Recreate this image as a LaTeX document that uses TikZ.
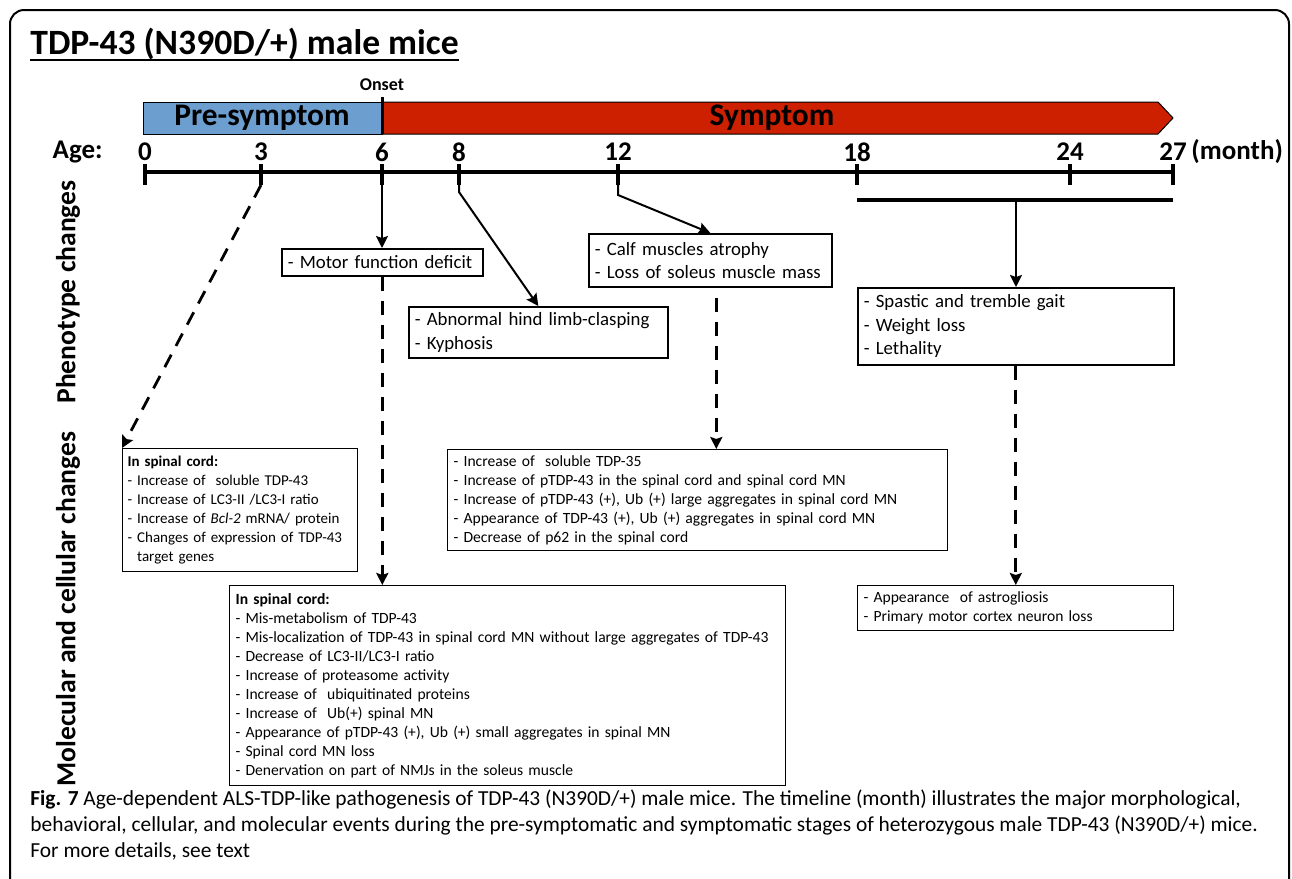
\documentclass[tikz,border=0pt]{standalone}
\usepackage{fontspec}
\setmainfont{Carlito}
\usetikzlibrary{positioning, arrows.meta}
\definecolor{preblue}{RGB}{108,159,208}
\definecolor{symred}{RGB}{204,32,0}
\tikzset{
>={Stealth[length=6pt, width=6pt, inset=1pt]}, % filled arrow heads
every node/.style={inner sep=0pt}, % text nodes sit right on their coordinates
phenobox/.style={draw, line width=0.8pt, anchor=north west, align=left, inner xsep=3pt, inner ysep=2pt, font=\fontsize{9.4}{11.75}\selectfont}, % phenotype boxes
molbox/.style={draw, line width=0.6pt, anchor=north west, align=left, inner xsep=3pt, inner ysep=2pt, font=\fontsize{7.8}{9.5}\selectfont}, % molecular boxes
solidarrow/.style={->, line width=1pt},
dasharrow/.style={->, line width=1.4pt, dash pattern=on 7pt off 5pt},
agelabel/.style={font=\bfseries\fontsize{13.5}{15}\selectfont},
stagelabel/.style={font=\bfseries\fontsize{15.7}{17}\selectfont},
sidelabel/.style={rotate=90, font=\bfseries\fontsize{13.8}{15}\selectfont},
}

\begin{document}
\begin{tikzpicture}[x=0.5pt, y=-0.5pt]
\useasboundingbox (0,0) rectangle (1292,879);
% frame
\draw[line width=1pt, rounded corners=7pt] (10,890) -- (10,10) -- (1289,10) -- (1289,890);

% title
\node[anchor=base west, font=\bfseries\fontsize{17.8}{20}\selectfont] (title) at (30,54) {TDP-43 (N390D/+) male mice};
\draw[line width=1pt] ([yshift=-3pt]title.base west) -- ([yshift=-3pt]title.base east);

% stages
\draw[line width=0.5pt, fill=preblue] (143,102) rectangle (382,134);
\draw[line width=0.5pt, fill=symred] (382,102) -- (1158,102) -- (1173,118) -- (1158,134) -- (382,134) -- cycle;
\draw[line width=1.5pt] (382,97) -- (382,134);
\node[font=\bfseries\fontsize{9}{11}\selectfont] (onset) at (382,85) {Onset};
\node[stagelabel] (pre) at (262,118) {Pre-symptom};
\node[stagelabel] (sym) at (772,118) {Symptom};

% age axis
\node[agelabel, anchor=east] (age) at (103,152) {Age:};
\draw[line width=2pt] (145,172) -- (1173,172);
\foreach \x/\m in {145/0, 261/3, 382/6, 459/8, 618/12, 857/18, 1070/24, 1173/27} {
  \draw[line width=2pt] (\x,164) -- (\x,185);
  \node[agelabel] (m\m) at (\x,152) {\m};
  \coordinate (t\m) at (\x,185);
}
\node[agelabel, anchor=west] (month) at ([xshift=2pt]m27.east) {(month)};
\draw[line width=2pt] (857,200) -- (1173,200);
\coordinate (late) at (1016,200);

% side labels
\node[sidelabel] (pheno) at (68,292) {Phenotype changes};
\node[sidelabel] (molec) at (68,609) {Molecular\ and\ cellular changes};

% phenotype changes
\node[phenobox, text width=94.5pt, minimum height=13.5pt] (motor) at (281,248) {- Motor function deficit};
\node[phenobox, text width=123.5pt, minimum height=25.5pt] (clasp) at (408,306) {- Abnormal hind limb-clasping\\- Kyphosis};
\node[phenobox, text width=115.5pt, minimum height=26.5pt] (calf) at (588,233) {- Calf muscles atrophy\\- Loss of soleus muscle mass};
\node[phenobox, text width=152pt, minimum height=38.5pt] (gait) at (857,287) {- Spastic and tremble gait\\- Weight loss\\- Lethality};

% molecular and cellular changes
\node[molbox, inner xsep=2.5pt, text width=112.5pt, minimum height=61.5pt, font=\fontsize{7.5}{9.5}\selectfont] (mol3) at (122,448) {\textbf{In spinal cord:}\\- Increase of\ \ soluble TDP-43\\- Increase of LC3-II /LC3-I ratio\\- Increase of \textit{Bcl-2} mRNA/ protein\\- Changes of expression of TDP-43\\\phantom{- }target genes};
\node[molbox, text width=244pt, minimum height=50.5pt] (mol12) at (447,449) {- Increase of\ \ soluble TDP-35\\- Increase of pTDP-43 in the spinal cord and spinal cord MN\\- Increase of pTDP-43 (+), Ub (+) large aggregates in spinal cord MN\\- Appearance of TDP-43 (+), Ub (+) aggregates in spinal cord MN\\- Decrease of p62 in the spinal cord};
\node[molbox, text width=272pt, minimum height=100pt] (mol6) at (229,585) {\textbf{In spinal cord:}\\- Mis-metabolism of TDP-43\\- Mis-localization of TDP-43 in spinal cord MN without large aggregates of TDP-43\\- Decrease of LC3-II/LC3-I ratio\\- Increase of proteasome activity\\- Increase of\ \ ubiquitinated proteins\\- Increase of\ \ Ub(+) spinal MN\\- Appearance of pTDP-43 (+), Ub (+) small aggregates in spinal MN\\- Spinal cord MN loss\\- Denervation on part of NMJs in the soleus muscle};
\node[molbox, text width=152pt, minimum height=22.5pt] (mol18) at (857,585) {- Appearance\ \ of astrogliosis\\- Primary motor cortex neuron loss};

% connectors
\draw[solidarrow] (t6) -- (t6 |- motor.north);
\draw[solidarrow] (t8) -- ++(0,7) -- (clasp.north);
\draw[solidarrow] (t12) -- ++(0,10) -- (calf.north);
\draw[solidarrow] (late) -- (late |- gait.north);
\draw[dasharrow] (t3) -- (mol3.north west);
\draw[dasharrow] (motor.south) -- (motor.south |- mol6.north);
\draw[dasharrow] ([xshift=3pt,yshift=-5pt]calf.south) -- ([xshift=3pt]calf.south |- mol12.north);
\draw[dasharrow] (gait.south) -- (gait.south |- mol18.north);

% caption
\node[anchor=north west, align=left, font=\fontsize{10.7}{13}\selectfont] (caption) at (30,789) {\textbf{Fig. 7} Age-dependent ALS-TDP-like pathogenesis of TDP-43 (N390D/+) male mice. The timeline (month) illustrates the major morphological,\\behavioral, cellular, and molecular events during the pre-symptomatic and symptomatic stages of heterozygous male TDP-43 (N390D/+) mice.\\For more details, see text};
\end{tikzpicture}
\end{document}
